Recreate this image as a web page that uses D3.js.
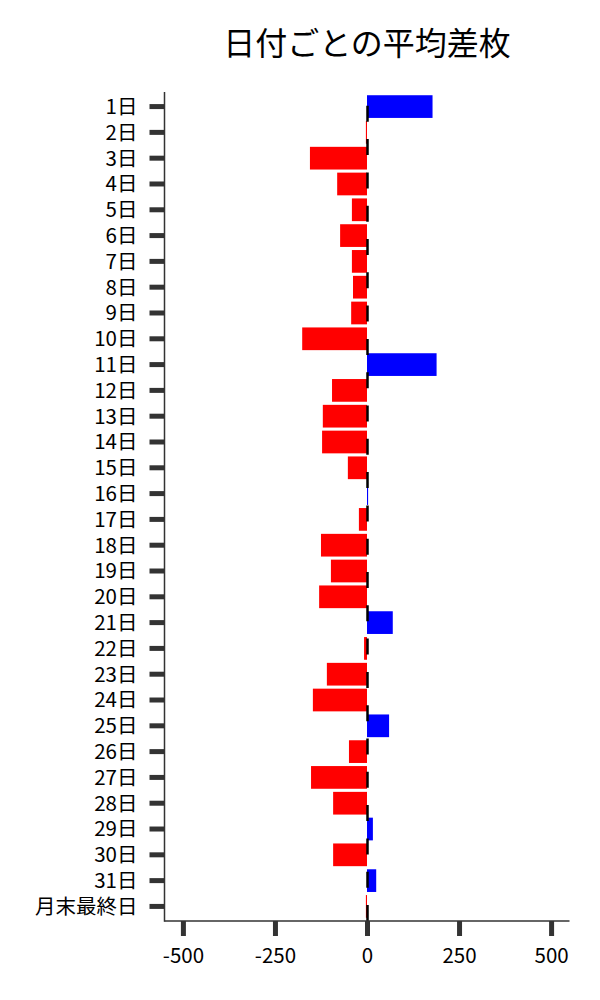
<!DOCTYPE html>
<html>
<head>
<meta charset="utf-8">
<script src="https://cdn.jsdelivr.net/npm/d3@7"></script>
<style>
  html, body { margin: 0; padding: 0; background: #fff; }
  svg { display: block; }
  text { font-family: "Noto Sans CJK JP", "Noto Sans", sans-serif; fill: #000; }
</style>
</head>
<body>
<svg id="chart" width="600" height="1000"></svg>
<script>
const title = "日付ごとの平均差枚";
const categories = ["1日","2日","3日","4日","5日","6日","7日","8日","9日","10日",
  "11日","12日","13日","14日","15日","16日","17日","18日","19日","20日",
  "21日","22日","23日","24日","25日","26日","27日","28日","29日","30日",
  "31日","月末最終日"];
const values = [178, -3, -155, -81, -41, -73, -41, -38, -43, -176,
  189, -95, -120, -122, -52, 3, -22, -125, -98, -130,
  70, -8, -109, -147, 60, -49, -152, -92, 16, -92,
  25, -3];
const xTicks = [-500, -250, 0, 250, 500];
const xDomain = [-550, 550];

const svg = d3.select("#chart");
const mLeft = 164.5, mRight = 569.5, mTop = 92, mBottom = 921;

const x = d3.scaleLinear().domain(xDomain).range([mLeft, mRight]);
const y = d3.scaleBand().domain(categories).range([mTop, mBottom])
  .paddingInner(0.12).paddingOuter(0.125);

// bars
svg.append("g").selectAll("rect").data(values).join("rect")
  .attr("x", d => x(Math.min(0, d)))
  .attr("width", d => Math.abs(x(d) - x(0)))
  .attr("y", (d, i) => y(categories[i]))
  .attr("height", y.bandwidth())
  .attr("fill", d => d >= 0 ? "#0000ff" : "#ff0000");

// zero dashed line (drawn from bottom up)
svg.append("line")
  .attr("x1", x(0) + 0.5).attr("x2", x(0) + 0.5)
  .attr("y1", mBottom).attr("y2", mTop)
  .attr("stroke", "#000").attr("stroke-width", 2.5)
  .attr("stroke-dasharray", "16,17.3");

// y axis
const yAxis = d3.axisLeft(y).tickSize(15).tickPadding(12);
const gy = svg.append("g").attr("transform", `translate(${mLeft},0)`).call(yAxis);
gy.select(".domain").remove();
gy.selectAll(".tick line").attr("stroke", "#333").attr("stroke-width", 5);
gy.selectAll(".tick text").attr("font-size", 20.5).attr("dy", "0.36em")
  .style("font-family", '"Noto Sans CJK JP", sans-serif');

// x axis
const xAxis = d3.axisBottom(x).tickValues(xTicks).tickSize(15).tickPadding(12)
  .tickFormat(d3.format("d"));
const gx = svg.append("g").attr("transform", `translate(0,${mBottom})`).call(xAxis);
gx.select(".domain").remove();
gx.selectAll(".tick line").attr("stroke", "#333").attr("stroke-width", 5);
gx.selectAll(".tick text").attr("font-size", 20.5).attr("dy", "0.72em")
  .style("font-family", '"Noto Sans CJK JP", sans-serif')
  .text(d => d < 0 ? "-" + Math.abs(d) : String(d));

// spines
svg.append("line").attr("x1", mLeft).attr("x2", mLeft).attr("y1", mTop).attr("y2", mBottom + 0.75)
  .attr("stroke", "#333").attr("stroke-width", 1.5);
svg.append("line").attr("x1", mLeft).attr("x2", mRight).attr("y1", mBottom).attr("y2", mBottom)
  .attr("stroke", "#333").attr("stroke-width", 1.5);

// title
svg.append("text").attr("x", (mLeft + mRight) / 2).attr("y", 55)
  .attr("text-anchor", "middle").attr("font-size", 32)
  .style("font-family", '"Noto Sans CJK JP", sans-serif')
  .text(title);
</script>
</body>
</html>
